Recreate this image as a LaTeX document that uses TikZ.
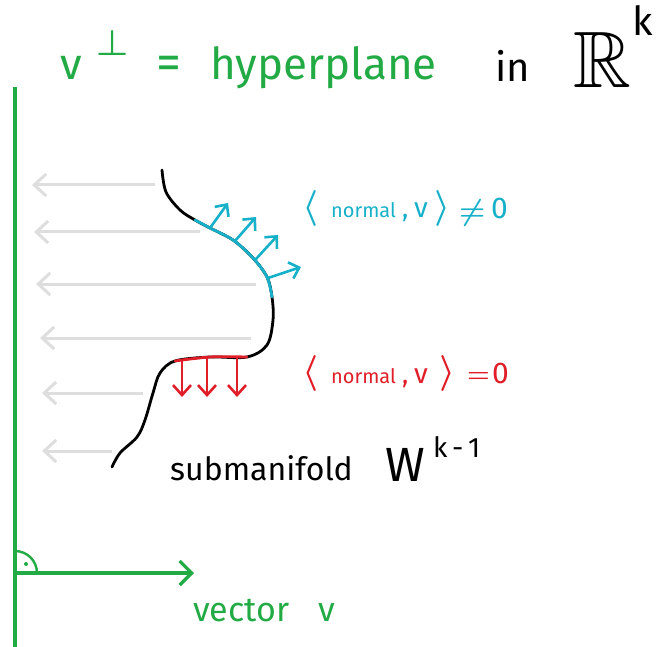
\documentclass[tikz,border=0pt]{standalone}
\usepackage{fix-cm}
\usepackage{amssymb}
\usepackage{fontspec}
\setmainfont{Fira Sans}
\usetikzlibrary{arrows.meta}
\definecolor{hgreen}{RGB}{34,170,68}
\definecolor{hcyan}{RGB}{23,176,201}
\definecolor{hred}{RGB}{224,30,40}
\definecolor{hgray}{RGB}{222,222,222}
\tikzset{
  txt/.style={inner sep=0pt, anchor=base west},
  flowarrow/.style={draw=hgray, line width=3pt, -{Straight Barb[length=12pt,width=22pt]}},
  cyanarrow/.style={draw=hcyan, line width=2.6pt, line cap=round, -{Straight Barb[length=9pt,width=17pt]}},
  redarrow/.style={draw=hred, line width=2.6pt, line cap=round, -{Straight Barb[length=10pt,width=18pt]}},
  curveline/.style={line width=2.8pt, line cap=round, line join=round},
}
\newcommand{\fs}[1]{\fontsize{#1}{#1}\selectfont}
\newcommand{\bsym}[1]{{\boldmath$#1$}}
\begin{document}
\begin{tikzpicture}[x=1pt,y=-1pt]
\useasboundingbox (0,0) rectangle (656,647);
% title
\node[txt, text=hgreen] (tv) at (60,80) {\fs{44}v};
\node[txt, text=hgreen] (tperp) at (96,56) {\fs{36}\bsym{\perp}};
\node[txt, text=hgreen] (teq) at (156,80) {\fs{50}=};
\node[txt, text=hgreen] (thyp) at (210,80) {\fs{44}hyperplane};
\node[txt] (tin) at (495,82) {\fs{40}in};
\node[txt] (tR) at (573,88) {\fs{80}$\mathbb{R}$};
\node[txt] (tk) at (632,36) {\fs{40}k};
% hyperplane and vector
\coordinate (ptop) at (15,87);
\coordinate (pbot) at (15,647);
\coordinate (vo) at (15,573);
\coordinate (vtip) at (194,573);
\draw[hgreen, line width=3.2pt] (ptop) -- (pbot);
\draw[hgreen, line width=3.2pt, -{Straight Barb[length=12pt,width=24pt]}] (vo) -- (vtip);
\draw[hgreen, line width=2.4pt] (37,573) arc[start angle=0, end angle=-90, radius=22];
\fill[hgreen] (26,564) circle (2);
\node[txt, text=hgreen] (vec) at (193,621) {\fs{34}vector};
\node[txt, text=hgreen] (vecv) at (318,621) {\fs{34}v};
% gray flow arrows
\coordinate (g1a) at (155,185); \coordinate (g1b) at (32,185);
\coordinate (g2a) at (200,232); \coordinate (g2b) at (34,232);
\coordinate (g3a) at (256,284); \coordinate (g3b) at (36,284);
\coordinate (g4a) at (251,338); \coordinate (g4b) at (40,338);
\coordinate (g5a) at (143,393); \coordinate (g5b) at (42,393);
\coordinate (g6a) at (112,451); \coordinate (g6b) at (42,451);
\foreach \i in {1,...,6} \draw[flowarrow] (g\i a) -- (g\i b);
% submanifold curve
\draw[curveline] plot[smooth, tension=0.55] coordinates {(162,170) (166,192) (180,210) (195,220) (210,228) (233,240) (253,258) (267,277) (272,297) (273,320) (267,345) (247,357) (210,357) (175,361) (160,373) (153,393) (145,420) (137,437) (120,453) (112,467)};
\draw[curveline, hcyan] plot[smooth, tension=0.55] coordinates {(195,220) (210,228) (233,240) (253,258) (267,277) (272,297)};
\draw[curveline, hred] plot[smooth, tension=0.55] coordinates {(247,357) (210,357) (175,361)};
% cyan normals
\coordinate (c1a) at (210,228); \coordinate (c1b) at (228,203);
\coordinate (c2a) at (235,241); \coordinate (c2b) at (256,217);
\coordinate (c3a) at (256,259); \coordinate (c3b) at (278,235);
\coordinate (c4a) at (268,278); \coordinate (c4b) at (301,267);
\foreach \i in {1,...,4} \draw[cyanarrow] (c\i a) -- (c\i b);
% red normals
\coordinate (r1a) at (182,361); \coordinate (r1b) at (182,397);
\coordinate (r2a) at (207,358); \coordinate (r2b) at (207,397);
\coordinate (r3a) at (237,357); \coordinate (r3b) at (237,397);
\foreach \i in {1,...,3} \draw[redarrow] (r\i a) -- (r\i b);
% cyan label
\begin{scope}[text=hcyan]
\node[txt] (cl1) at (302,218) {\fs{36}\bsym{\langle}};
\node[txt] (cl2) at (331,218) {\fs{20}normal};
\node[txt] (cl3) at (402,218) {\fs{26},};
\node[txt] (cl4) at (414,218) {\fs{28}v};
\node[txt] (cl5) at (434,218) {\fs{36}\bsym{\rangle}};
\node[txt] (cl6) at (459,221) {\fs{30}\bsym{\neq}};
\node[txt] (cl7) at (491,219) {\fs{30}0};
\end{scope}
% red label
\begin{scope}[text=hred]
\node[txt] (rl1) at (302,382) {\fs{36}\bsym{\langle}};
\node[txt] (rl2) at (331,383) {\fs{20}normal};
\node[txt] (rl3) at (402,383) {\fs{26},};
\node[txt] (rl4) at (414,383) {\fs{28}v};
\node[txt] (rl5) at (439,382) {\fs{36}\bsym{\rangle}};
\node[txt] (rl6) at (467,382) {\fs{26}\bsym{=}};
\node[txt] (rl7) at (492,383) {\fs{30}0};
\end{scope}
% submanifold label
\node[txt] (sub) at (170,480) {\fs{32}submanifold};
\node[txt] (subW) at (385,481) {\fs{48}W};
\node[txt] (subk) at (433,457) {\fs{28}k\,-\,1};
\end{tikzpicture}
\end{document}
